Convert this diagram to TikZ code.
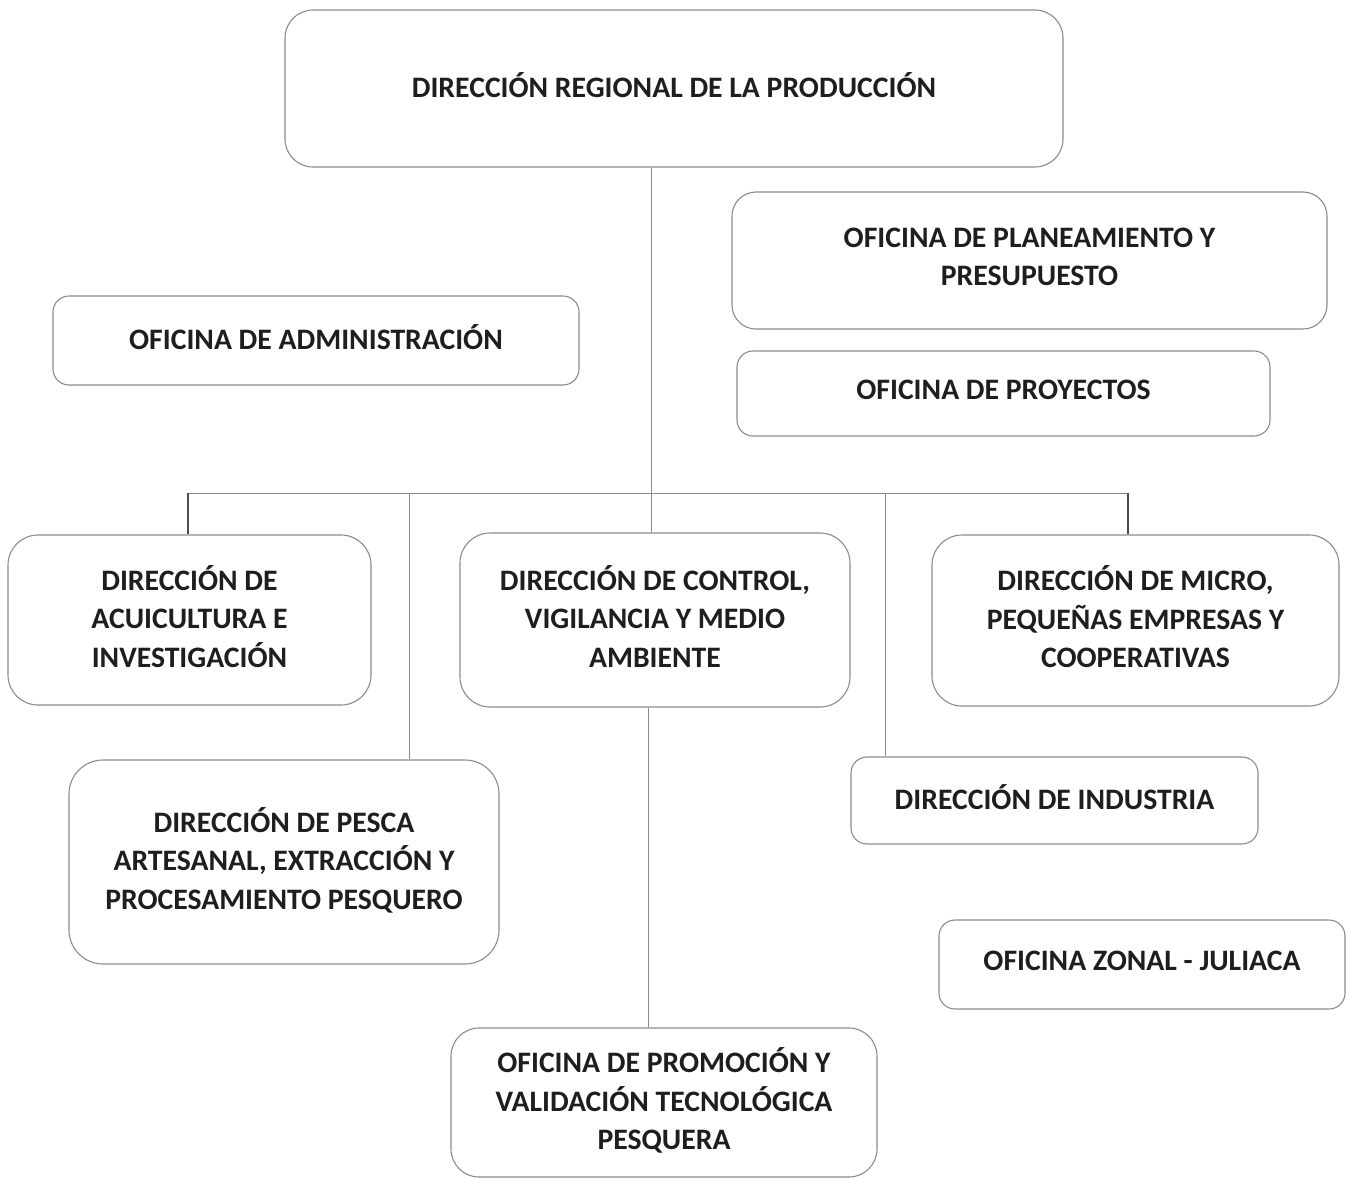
\documentclass[tikz,border=0pt]{standalone}
\usepackage{fontspec}
\setmainfont{Carlito}
\definecolor{boxline}{HTML}{8C8C8C}
\definecolor{conn}{HTML}{8A8A8A}
\definecolor{txt}{HTML}{1E1E1E}
\begin{document}
\begin{tikzpicture}[x=1pt,y=-1pt,
  orgbox/.style={draw=boxline,line width=1.1pt,fill=white,align=center,
    font=\fontsize{29.7}{38.5}\selectfont\bfseries,text=txt,inner sep=0pt,text depth=7pt},
  conline/.style={draw=conn,line width=1pt},
  darkline/.style={draw=black!70,line width=1.4pt}]
\useasboundingbox (0,0) rectangle (1346,1179);
% boxes
\node[orgbox,minimum width=778pt,minimum height=157pt,rounded corners=28pt] (top) at (674,88.5) {DIRECCIÓN REGIONAL DE LA PRODUCCIÓN};
\node[orgbox,minimum width=595pt,minimum height=137pt,rounded corners=24pt] (plan) at (1029.5,260.5) {OFICINA DE PLANEAMIENTO Y\\PRESUPUESTO};
\node[orgbox,minimum width=533pt,minimum height=85pt,rounded corners=16pt] (proy) at (1003.5,393.5) {OFICINA DE PROYECTOS};
\node[orgbox,minimum width=526pt,minimum height=89pt,rounded corners=16pt] (admin) at (316,340.5) {OFICINA DE ADMINISTRACIÓN};
\node[orgbox,minimum width=363pt,minimum height=170pt,rounded corners=30pt] (acui) at (189.5,620) {DIRECCIÓN DE\\ACUICULTURA E\\INVESTIGACIÓN};
\node[orgbox,minimum width=390pt,minimum height=174pt,rounded corners=30pt] (ctrl) at (655,620) {DIRECCIÓN DE CONTROL,\\VIGILANCIA Y MEDIO\\AMBIENTE};
\node[orgbox,minimum width=407pt,minimum height=171pt,rounded corners=30pt] (micro) at (1135.5,620.5) {DIRECCIÓN DE MICRO,\\PEQUEÑAS EMPRESAS Y\\COOPERATIVAS};
\node[orgbox,minimum width=430pt,minimum height=204pt,rounded corners=34pt] (pesca) at (284,862) {DIRECCIÓN DE PESCA\\ARTESANAL, EXTRACCIÓN Y\\PROCESAMIENTO PESQUERO};
\node[orgbox,minimum width=407pt,minimum height=87pt,rounded corners=16pt] (indus) at (1054.5,800.5) {DIRECCIÓN DE INDUSTRIA};
\node[orgbox,minimum width=406pt,minimum height=89pt,rounded corners=16pt] (zonal) at (1142,964.5) {OFICINA ZONAL - JULIACA};
\node[orgbox,minimum width=426pt,minimum height=149pt,rounded corners=28pt] (promo) at (664,1102.5) {OFICINA DE PROMOCIÓN Y\\VALIDACIÓN TECNOLÓGICA\\PESQUERA};
% connectors
\coordinate (hubC) at (651,493);
\coordinate (hubL) at (188,493);
\coordinate (hubR) at (1128,493);
\coordinate (dropP) at (409,493);
\coordinate (dropI) at (885,493);
\draw[conline] (top.south -| hubC) -- (ctrl.north -| hubC);
\draw[conline] (hubL) -- (hubR);
\draw[darkline] (hubL) -- (acui.north -| hubL);
\draw[darkline] (hubR) -- (micro.north -| hubR);
\draw[conline] (dropP) -- (pesca.north -| dropP);
\draw[conline] (dropI) -- (indus.north -| dropI);
\coordinate (cp) at (648,707);
\draw[conline] (ctrl.south -| cp) -- (promo.north -| cp);
\end{tikzpicture}
\end{document}
